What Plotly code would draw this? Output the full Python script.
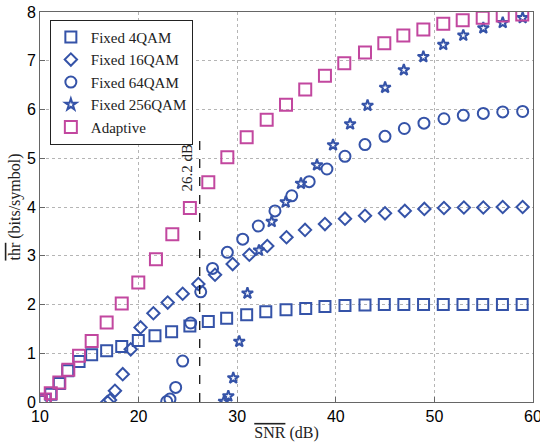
import plotly.graph_objects as go

# ---- data ----
snr_4qam = [10.1, 10.5, 11.09, 11.96, 12.81, 13.96, 15.24, 16.76, 18.29, 19.97, 21.66, 23.35, 25.2, 27.07,
            28.93, 30.96, 32.9, 34.95, 36.95, 38.9, 40.93, 42.96, 44.92, 46.9, 48.9, 50.9, 52.9, 54.9, 56.9, 58.9]
thr_4qam = [0.01, 0.05, 0.16, 0.38, 0.64, 0.83, 0.97, 1.05, 1.14, 1.26, 1.36, 1.44, 1.56, 1.65,
            1.72, 1.79, 1.85, 1.89, 1.92, 1.96, 1.98, 1.99, 2.0, 2.0, 2.0, 2.0, 2.0, 2.0, 2.0, 2.0]

snr_16qam = [16.83, 17.1, 17.6, 18.39, 19.2, 20.2, 21.5, 22.95, 24.47, 26.06, 27.75, 29.54, 31.23, 33.05,
             35.0, 36.88, 38.9, 40.93, 42.96, 44.99, 47.0, 48.98, 50.97, 52.99, 54.96, 56.93, 58.95]
thr_16qam = [0.0, 0.04, 0.23, 0.57, 1.08, 1.53, 1.82, 2.04, 2.22, 2.42, 2.61, 2.83, 3.02, 3.20,
             3.38, 3.53, 3.65, 3.76, 3.82, 3.87, 3.92, 3.96, 3.98, 3.99, 3.99, 4.0, 4.0]

snr_64qam = [22.85, 23.18, 23.76, 24.47, 25.28, 26.3, 27.5, 29.0, 30.56, 32.14, 33.83, 35.53, 37.3, 39.1,
             40.93, 42.96, 44.99, 46.95, 48.94, 50.97, 52.93, 54.96, 56.93, 58.95]
thr_64qam = [0.01, 0.06, 0.30, 0.84, 1.62, 2.26, 2.74, 3.07, 3.34, 3.61, 3.92, 4.23, 4.52, 4.78,
             5.04, 5.28, 5.45, 5.61, 5.72, 5.81, 5.88, 5.92, 5.95, 5.96]

snr_256qam = [28.66, 29.1, 29.6, 30.21, 31.04, 32.21, 33.5, 34.92, 36.47, 38.09, 39.72, 41.45, 43.22,
              45.0, 46.9, 48.88, 50.9, 52.93, 54.96, 56.93, 58.95]
thr_256qam = [0.01, 0.12, 0.49, 1.24, 2.23, 3.11, 3.70, 4.10, 4.48, 4.86, 5.27, 5.70, 6.08,
              6.45, 6.81, 7.08, 7.33, 7.52, 7.67, 7.78, 7.88]

snr_adapt = [10.1, 10.5, 11.09, 11.96, 12.87, 13.96, 15.24, 16.76, 18.29, 19.97, 21.76, 23.42, 25.2, 27.07,
             29.0, 30.96, 32.99, 34.95, 36.9, 38.9, 40.86, 42.96, 44.92, 46.85, 48.88, 50.9, 52.87, 54.9,
             56.93, 58.91]
thr_adapt = [0.01, 0.05, 0.18, 0.40, 0.66, 0.95, 1.25, 1.63, 2.02, 2.45, 2.93, 3.44, 3.98, 4.51,
             5.02, 5.43, 5.79, 6.10, 6.41, 6.69, 6.95, 7.17, 7.36, 7.52, 7.64, 7.76, 7.83, 7.88,
             7.93, 7.95]

threshold_snr = 26.2
threshold_line_y = [0, 5.4]
threshold_label = "26.2 dB"

x_ticks = [10, 20, 30, 40, 50, 60]
y_ticks = [0, 1, 2, 3, 4, 5, 6, 7, 8]

BLUE = "#3553a8"
MAGENTA = "#c2479f"
SERIF = "Liberation Serif, Times New Roman, serif"
SANS = "Liberation Sans, Arial, sans-serif"

fig = go.Figure()

series = [
    ("Fixed 4QAM", snr_4qam, thr_4qam, "square-open", 11, BLUE),
    ("Fixed 16QAM", snr_16qam, thr_16qam, "diamond-open", 9.5, BLUE),
    ("Fixed 64QAM", snr_64qam, thr_64qam, "circle-open", 11, BLUE),
    ("Fixed 256QAM", snr_256qam, thr_256qam, "star-open", 8.5, BLUE),
    ("Adaptive", snr_adapt, thr_adapt, "square-open", 12, MAGENTA),
]
for name, xs, ys, sym, sz, col in series:
    fig.add_trace(go.Scatter(
        x=xs, y=ys, mode="markers", name=name,
        marker=dict(symbol=sym, size=sz, color=col, line=dict(color=col, width=2)),
    ))

fig.add_trace(go.Scatter(
    x=[threshold_snr, threshold_snr], y=threshold_line_y, mode="lines",
    line=dict(color="black", width=1.2, dash="dash"), showlegend=False, hoverinfo="skip",
))

fig.add_annotation(
    x=threshold_snr, y=threshold_line_y[1], xref="x", yref="y",
    text=threshold_label, textangle=-90, showarrow=False,
    xanchor="right", yanchor="top", xshift=-3, yshift=-3,
    font=dict(family=SERIF, size=15, color="#222"),
)

axis_common = dict(
    showline=True, mirror=True, linecolor="#666", linewidth=1,
    ticks="inside", ticklen=5, tickcolor="#666",
    showgrid=True, gridcolor="#b5b5b5", griddash="dot", gridwidth=1,
    zeroline=False, automargin=False, ticklabeloverflow="allow",
    tickfont=dict(family=SANS, size=16, color="black"),
)

fig.update_xaxes(
    range=[10, 60], tickvals=x_ticks, **axis_common,
    title=dict(text='<span style="text-decoration:overline">SNR</span> (dB)',
               font=dict(family=SERIF, size=16, color="#222"), standoff=2),
)
fig.update_yaxes(
    range=[0, 8], tickvals=y_ticks, **axis_common,
    title=dict(text='<span style="text-decoration:overline">thr</span> (bits/symbol)',
               font=dict(family=SERIF, size=16, color="#222"), standoff=2),
)

fig.update_layout(
    width=540, height=446,
    margin=dict(l=40, r=7, t=12, b=44, autoexpand=False),
    plot_bgcolor="white", paper_bgcolor="white",
    legend=dict(
        x=0.02, y=0.98, xanchor="left", yanchor="top",
        bgcolor="white", bordercolor="#222", borderwidth=1,
        font=dict(family=SERIF, size=15, color="#222"),
        tracegroupgap=0, itemwidth=30,
    ),
)

fig.write_html(
    "out.html",
    config={"displayModeBar": False},
    post_script="document.body.style.margin='0';document.body.style.overflow='hidden';",
)
